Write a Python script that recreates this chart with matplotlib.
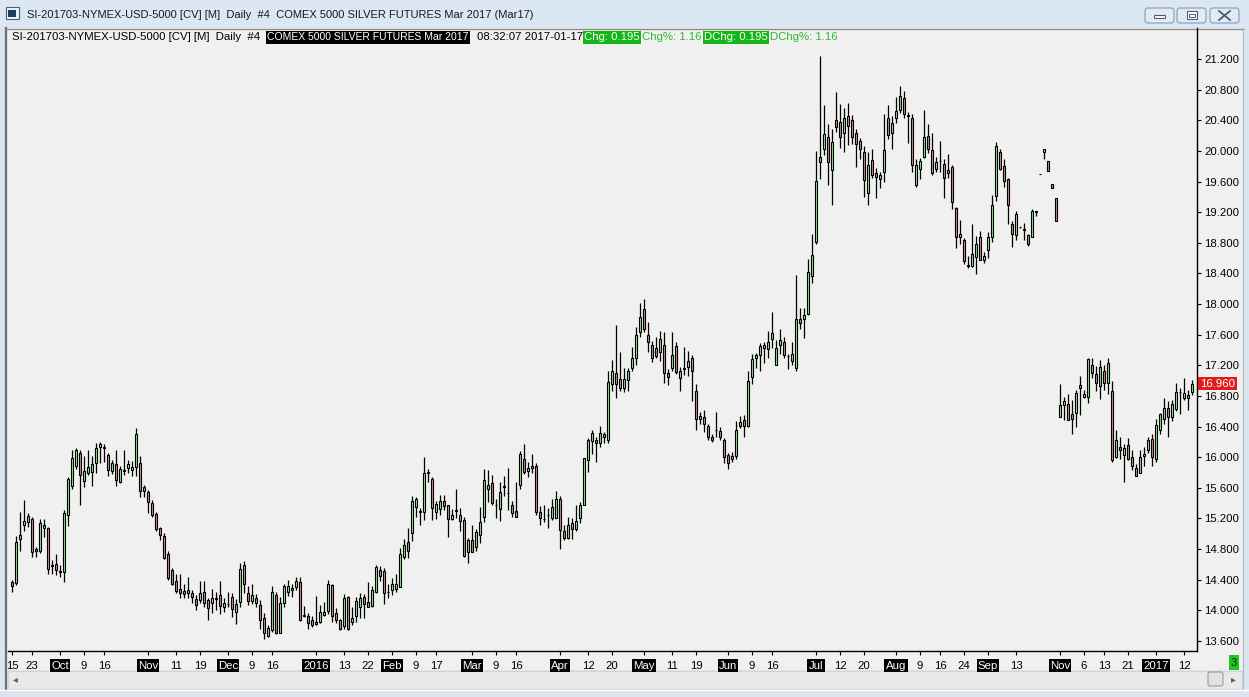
import numpy as np
import matplotlib
matplotlib.use("Agg")
import matplotlib.pyplot as plt
from matplotlib.patches import Rectangle, FancyBboxPatch
import matplotlib.transforms as mtrans

plt.rcParams['font.family'] = ['Liberation Sans', 'DejaVu Sans']

# ---------------- data ----------------
opens = [14.37,14.36,14.93,15.12,15.16,15.19,14.77,14.77,15.07,15.08,
14.59,14.61,14.51,14.50,15.25,15.62,15.89,16.06,15.69,15.80,
15.81,15.92,16.13,16.13,16.03,15.82,15.91,15.68,15.83,15.86,
15.83,15.87,15.93,15.61,15.54,15.40,15.26,15.08,14.97,14.74,
14.53,14.38,14.28,14.25,14.22,14.23,14.15,14.14,14.24,14.14,
14.09,14.16,14.20,14.04,14.08,14.17,13.98,14.11,14.59,14.22,
14.12,14.16,14.07,13.90,13.66,13.74,14.20,13.71,14.10,14.24,
14.26,14.30,14.37,13.93,13.93,13.87,13.82,13.85,13.94,13.99,
14.33,13.96,13.87,13.79,14.18,13.85,13.92,14.04,14.17,14.11,
14.06,14.24,14.53,14.51,14.24,14.26,14.28,14.31,14.70,14.89,
15.01,15.35,15.29,15.29,15.80,15.71,15.28,15.32,15.43,15.37,
15.19,15.30,15.24,15.18,14.76,14.92,14.83,14.98,15.22,15.58,
15.66,15.37,15.32,15.61,15.53,15.37,15.30,15.64,15.97,15.82,
15.86,15.89,15.28,15.19,15.24,15.21,15.21,15.45,15.04,14.94,
15.14,15.06,15.21,15.38,15.96,16.21,16.23,16.19,16.30,16.22,
16.96,17.10,17.02,16.90,17.01,17.16,17.29,17.63,17.93,17.60,
17.46,17.42,17.37,17.46,17.10,17.16,17.45,17.03,17.16,17.18,
17.29,16.86,16.50,16.52,16.41,16.26,16.35,16.34,16.22,16.03,
15.98,16.02,16.41,16.49,16.41,17.05,17.29,17.33,17.43,17.41,
17.55,17.21,17.46,17.50,17.32,17.26,17.16,17.80,17.80,17.87,
18.36,18.81,19.85,20.02,20.18,19.75,20.41,20.38,20.23,20.46,
20.40,20.24,20.13,19.98,19.45,19.88,19.71,19.63,19.72,20.43,
20.23,20.43,20.54,20.69,20.46,20.43,19.56,19.76,19.92,20.20,
20.01,19.76,19.87,19.83,19.71,19.79,19.26,18.87,18.83,18.50,
18.50,18.62,18.87,18.58,18.71,18.87,19.41,19.98,19.80,19.63,
19.05,18.90,19.00,18.97,18.90,18.88,19.20,19.70,19.99,19.87,
19.57,19.39,16.53,16.68,16.69,16.56,16.58,16.94,16.79,16.78,
17.20,17.08,16.93,17.13,16.97,16.86,16.00,16.13,16.03,16.16,
16.00,15.86,15.80,16.01,16.09,16.24,15.97,16.35,16.50,16.64,
16.52,16.63,16.85,16.77,16.81,16.85]

highs = [14.40,14.97,15.28,15.44,15.27,15.22,14.83,15.19,15.19,15.09,
14.66,14.74,14.59,15.31,15.74,16.09,16.12,16.09,16.01,16.09,
16.02,16.19,16.20,16.17,16.05,15.96,16.10,15.89,16.10,15.96,
15.95,16.38,16.02,15.64,15.57,15.44,15.29,15.09,15.01,14.77,
14.55,14.48,14.48,14.35,14.43,14.27,14.20,14.38,14.38,14.16,
14.28,14.24,14.38,14.16,14.24,14.22,14.15,14.62,14.65,14.32,
14.34,14.21,14.14,13.97,13.81,14.32,14.24,14.17,14.35,14.40,
14.34,14.43,14.44,14.06,13.97,13.92,14.19,14.07,14.11,14.40,
14.35,14.03,13.89,14.21,14.19,14.05,14.18,14.22,14.21,14.37,
14.32,14.59,14.58,14.55,14.35,14.42,14.48,14.82,14.93,15.07,
15.49,15.48,15.33,16.00,15.85,15.74,15.43,15.51,15.51,15.38,
15.32,15.59,15.33,15.22,14.95,15.11,15.06,15.35,15.85,15.83,
15.77,15.46,15.68,15.75,15.86,15.43,15.68,16.08,16.17,15.94,
16.04,15.93,15.36,15.38,15.33,15.45,15.56,15.49,15.11,15.22,
15.20,15.38,15.41,15.99,16.25,16.36,16.27,16.41,16.33,17.12,
17.27,17.73,17.37,17.16,17.17,17.44,17.70,18.02,18.06,17.76,
17.52,17.57,17.65,17.63,17.15,17.63,17.50,17.18,17.44,17.39,
17.34,16.96,16.59,16.61,16.43,16.30,16.59,16.40,16.25,16.06,
16.07,16.47,16.54,16.55,17.12,17.35,17.36,17.49,17.50,17.65,
17.89,17.53,17.67,17.57,17.35,17.51,18.38,17.95,17.95,18.59,
18.91,20.00,21.24,20.60,20.35,20.28,20.77,20.61,20.56,20.63,
20.47,20.29,20.17,20.06,19.99,20.03,19.78,19.73,20.48,20.60,
20.45,20.70,20.85,20.78,20.51,20.48,19.90,19.91,20.53,20.35,
20.24,19.92,20.13,19.90,19.96,19.82,19.27,19.10,18.86,18.63,
19.05,18.89,18.95,18.68,18.94,19.42,20.12,20.03,19.89,19.64,
19.08,19.21,19.01,19.06,18.91,19.24,19.21,19.70,20.03,19.87,
19.57,19.39,16.96,16.78,16.83,16.75,16.88,17.06,16.88,17.30,
17.29,17.19,17.27,17.20,17.29,17.00,16.35,16.27,16.17,16.25,
16.09,15.91,16.10,16.13,16.27,16.30,16.50,16.58,16.77,16.73,
16.75,16.97,16.91,17.03,16.88,17.01]

lows = [14.24,14.33,14.78,15.03,15.09,14.70,14.70,14.75,14.96,14.48,
14.47,14.46,14.43,14.37,15.10,15.58,15.84,15.38,15.61,15.77,
15.62,15.80,15.92,15.94,15.75,15.78,15.62,15.66,15.77,15.79,
15.75,15.75,15.48,15.48,15.27,15.22,15.04,14.92,14.67,14.40,
14.33,14.22,14.16,14.16,14.16,14.09,14.00,14.09,14.05,13.87,
13.96,14.00,13.95,13.98,14.05,13.91,13.82,14.04,14.22,14.07,
14.08,14.05,13.76,13.63,13.65,13.72,13.69,13.70,14.05,14.19,
14.18,14.26,13.86,13.91,13.76,13.78,13.81,13.84,13.92,13.95,
13.85,13.84,13.74,13.76,13.74,13.81,13.85,13.90,13.90,14.04,
14.05,14.23,14.38,14.08,14.16,14.20,14.24,14.30,14.67,14.68,
14.91,15.22,15.12,15.18,15.67,15.18,15.19,15.25,15.31,14.96,
15.18,15.20,15.04,14.70,14.62,14.76,14.78,14.88,15.16,15.42,
15.37,15.21,15.17,15.49,15.31,15.22,15.22,15.58,15.78,15.74,
15.80,15.25,15.12,15.15,15.07,15.18,15.20,14.80,14.92,14.93,
14.93,15.04,15.14,15.38,15.81,16.04,15.94,16.13,16.18,16.19,
16.87,16.77,16.86,16.85,16.86,17.12,17.20,17.57,17.63,17.38,
17.24,17.30,17.25,16.97,16.94,17.13,17.09,16.87,17.07,17.06,
16.73,16.36,16.44,16.33,16.23,16.20,16.27,16.23,15.93,15.84,
15.94,15.98,16.38,16.26,16.39,16.96,17.17,17.12,17.23,17.30,
17.42,17.20,17.35,17.30,17.15,17.20,17.12,17.68,17.56,17.86,
18.28,18.79,19.63,19.95,19.55,19.30,20.25,20.04,19.98,20.08,
20.09,19.79,19.89,19.40,19.29,19.64,19.38,19.51,19.60,20.15,
20.03,20.36,20.49,20.43,20.10,19.73,19.53,19.63,19.91,19.97,
19.69,19.72,19.73,19.39,19.64,19.24,18.73,18.79,18.52,18.47,
18.49,18.39,18.57,18.54,18.60,18.81,19.34,19.75,19.53,19.05,
18.74,18.83,18.99,18.83,18.76,18.87,19.15,19.70,19.89,19.74,
19.52,19.09,16.53,16.48,16.48,16.30,16.39,16.55,16.77,16.71,
17.04,16.87,16.76,16.88,16.83,15.94,15.99,15.97,15.68,15.96,
15.83,15.75,15.79,15.88,16.05,15.89,15.94,16.30,16.44,16.27,
16.47,16.60,16.57,16.75,16.62,16.81]

closes = [14.32,14.89,14.99,15.17,15.23,14.76,14.80,15.14,15.12,14.54,
14.58,14.53,14.50,15.27,15.72,15.99,16.10,15.77,15.82,15.87,
15.91,16.12,16.17,16.12,15.83,15.93,15.70,15.85,15.82,15.91,
15.87,16.30,15.56,15.56,15.41,15.25,15.06,14.98,14.69,14.42,
14.35,14.25,14.22,14.21,14.26,14.17,14.07,14.22,14.09,14.03,
14.16,14.15,14.06,14.09,14.08,14.02,14.08,14.54,14.34,14.12,
14.20,14.10,13.88,13.70,13.77,14.24,13.70,14.09,14.32,14.32,
14.29,14.38,13.87,13.93,13.84,13.81,13.85,13.98,13.98,14.34,
13.92,13.87,13.75,14.16,13.75,13.90,14.12,14.16,14.08,14.05,
14.26,14.57,14.45,14.23,14.24,14.34,14.34,14.74,14.85,14.78,
15.43,15.45,15.29,15.80,15.80,15.33,15.39,15.43,15.36,15.19,
15.24,15.30,15.17,14.71,14.92,14.76,15.02,15.15,15.70,15.64,
15.40,15.37,15.55,15.62,15.53,15.27,15.22,16.04,15.81,15.86,
15.89,15.28,15.20,15.19,15.24,15.35,15.46,15.05,14.94,15.12,
15.06,15.17,15.38,15.99,16.22,16.32,16.18,16.31,16.26,16.98,
17.13,16.96,16.90,17.02,17.13,17.29,17.59,17.83,17.68,17.50,
17.30,17.32,17.54,17.10,17.05,17.33,17.11,17.13,17.15,17.26,
17.13,16.50,16.54,16.43,16.26,16.22,16.35,16.27,16.00,15.93,
16.02,16.36,16.46,16.41,16.99,17.28,17.33,17.45,17.47,17.51,
17.62,17.42,17.53,17.33,17.32,17.35,17.80,17.75,17.86,18.42,
18.64,19.61,19.92,20.22,19.85,20.12,20.31,20.18,20.43,20.33,
20.18,20.09,20.02,19.62,19.82,19.69,19.66,19.69,20.01,20.21,
20.36,20.52,20.72,20.48,20.46,19.82,19.81,19.87,20.18,20.03,
19.71,19.85,19.87,19.65,19.75,19.33,18.87,18.92,18.56,18.50,
18.66,18.78,18.58,18.63,18.87,19.29,20.06,19.77,19.61,19.29,
18.92,19.18,19.00,18.97,18.79,19.22,19.21,19.70,20.03,19.74,
19.52,19.09,16.68,16.74,16.48,16.50,16.84,16.90,16.82,17.28,
17.10,16.97,17.18,16.97,17.23,15.96,16.23,16.09,16.12,15.98,
15.88,15.76,16.00,16.04,16.23,16.00,16.42,16.57,16.64,16.52,
16.69,16.85,16.85,16.84,16.77,16.96]

# x-axis tick labels (bar index, text)
xtick_pos = [0, 5, 12, 18, 23, 34, 41, 47, 54, 60, 65, 76, 83, 89, 95, 101, 106,
             115, 121, 126, 137, 144, 150, 158, 165, 171, 179, 185, 190, 201, 207,
             213, 221, 227, 232, 238, 244, 251, 262, 268, 273, 279, 286, 293]
xtick_lbl = ['15', '23', 'Oct', '9', '16', 'Nov', '11', '19', 'Dec', '9', '16', '2016',
             '13', '22', 'Feb', '9', '17', 'Mar', '9', '16', 'Apr', '12', '20', 'May',
             '11', '19', 'Jun', '9', '16', 'Jul', '12', '20', 'Aug', '9', '16', '24',
             'Sep', '13', 'Nov', '6', '13', '21', '2017', '12']
ytick_vals = [13.6, 14.0, 14.4, 14.8, 15.2, 15.6, 16.0, 16.4, 16.8, 17.2, 17.6,
              18.0, 18.4, 18.8, 19.2, 19.6, 20.0, 20.4, 20.8, 21.2]
last_price = 16.96

title_txt = "SI-201703-NYMEX-USD-5000 [CV] [M]  Daily  #4  COMEX 5000 SILVER FUTURES Mar 2017 (Mar17)"
hdr_sym = "SI-201703-NYMEX-USD-5000 [CV] [M]  Daily  #4"
hdr_name = "COMEX 5000 SILVER FUTURES Mar 2017"
hdr_time = "08:32:07 2017-01-17"
hdr_chg = "Chg: 0.195"
hdr_chgp = "Chg%: 1.16"
hdr_dchg = "DChg: 0.195"
hdr_dchgp = "DChg%: 1.16"

# ---------------- figure / window frame ----------------
W, H = 1249, 697
fig = plt.figure(figsize=(W / 100, H / 100), dpi=100)
fig.patch.set_facecolor('#dae5f2')

bg = fig.add_axes([0, 0, 1, 1])
bg.set_xlim(0, W)
bg.set_ylim(H, 0)
bg.axis('off')
bg.set_zorder(0)

# title bar
bg.add_patch(Rectangle((0, 0), W, 27, fc='#dce7f4', ec='none'))
bg.add_patch(Rectangle((6, 7), 13, 12, fc='#eef3f9', ec='#4a5d78', lw=0.8))
bg.add_patch(Rectangle((8, 10), 8, 7, fc='#1d3b5b', ec='none'))
bg.text(27, 14.5, title_txt, va='center', ha='left', fontsize=8.0, color='#1a1a1a')
for x0 in (1145, 1177, 1210):
    bg.add_patch(FancyBboxPatch((x0, 8), 29, 15, boxstyle='round,pad=0,rounding_size=3',
                                fc='#e3eaf4', ec='#8ea2bd', lw=0.9))
bg.add_patch(Rectangle((1154, 15), 11, 3, fc='white', ec='#4b5c76', lw=0.8))
bg.add_patch(Rectangle((1187, 11), 10, 8, fc='white', ec='#4b5c76', lw=0.8))
bg.add_patch(Rectangle((1189, 13.5), 6, 3, fc='none', ec='#4b5c76', lw=0.7))
bg.plot([1219, 1230], [11, 20], color='#4b5c76', lw=1.3)
bg.plot([1219, 1230], [20, 11], color='#4b5c76', lw=1.3)

# chart panel
bg.add_patch(Rectangle((7, 28), 1236, 642, fc='#f0f0f0', ec='none'))
bg.plot([6, 6], [28, 690], color='#6f6f6f', lw=1.6)
bg.plot([6, 1243], [28.5, 28.5], color='#8c8c8c', lw=1.0)
bg.plot([1243, 1243], [28, 690], color='#b8b8b8', lw=0.8)

# scrollbar
bg.add_patch(Rectangle((8, 671), 1234, 18, fc='#e9e9e9', ec='#d4d4d4', lw=0.8))
bg.text(15, 679.5, '\u25c2', ha='center', va='center', fontsize=7, color='#606060',
        family='DejaVu Sans')
bg.add_patch(FancyBboxPatch((1208, 672), 15, 14, boxstyle='round,pad=0,rounding_size=2',
                            fc='#e2e2e2', ec='#9a9a9a', lw=0.8))
bg.text(1233, 679.5, '\u25b8', ha='center', va='center', fontsize=7, color='#606060',
        family='DejaVu Sans')
bg.plot([0, W], [689.5, 689.5], color='white', lw=1)

# header row
fs_hdr = 8.2
yh = 37.5
bg.text(12, yh, hdr_sym, va='center', ha='left', fontsize=fs_hdr, color='black')
bg.text(267, yh, hdr_name, va='center', ha='left', fontsize=7.5, color='white',
        bbox=dict(boxstyle='square,pad=0.12', fc='black', ec='none'))
bg.text(477, yh, hdr_time, va='center', ha='left', fontsize=fs_hdr, color='black')
bg.text(584, yh, hdr_chg, va='center', ha='left', fontsize=fs_hdr, color='white',
        bbox=dict(boxstyle='square,pad=0.12', fc='#14b814', ec='none'))
bg.text(642, yh, hdr_chgp, va='center', ha='left', fontsize=fs_hdr, color='#2fb82f')
bg.text(704, yh, hdr_dchg, va='center', ha='left', fontsize=fs_hdr, color='white',
        bbox=dict(boxstyle='square,pad=0.12', fc='#14b814', ec='none'))
bg.text(770, yh, hdr_dchgp, va='center', ha='left', fontsize=fs_hdr, color='#2fb82f')

# bars indicator
bg.text(1234, 662.5, '3', ha='center', va='center', fontsize=8, color='#0b300b',
        bbox=dict(boxstyle='square,pad=0.2', fc='#22c422', ec='none'))

# ---------------- price axes ----------------
ax = fig.add_axes([8 / W, 1 - 651 / H, (1197 - 8) / W, (651 - 28) / H])
ax.set_zorder(1)
ax.patch.set_alpha(0)
n = len(closes)
idx = np.arange(n)
ax.set_xlim(-1, 296.25)
ax.set_ylim(13.469, 21.605)

o = np.array(opens); c = np.array(closes); hi = np.array(highs); lo = np.array(lows)
up = c >= o
colors = np.where(up, '#92ea92', '#cd8e8e')
ax.vlines(idx, lo, hi, color='black', lw=0.9, zorder=2)
bottoms = np.minimum(o, c)
heights = np.maximum(np.abs(c - o), 0.004)
ax.bar(idx, heights, bottom=bottoms, width=0.74, color=colors, edgecolor='black',
       linewidth=0.8, zorder=3)

for side in ('left', 'top'):
    ax.spines[side].set_visible(False)
for side in ('right', 'bottom'):
    ax.spines[side].set_color('black')
    ax.spines[side].set_linewidth(1.0)

ax.yaxis.tick_right()
ax.set_yticks(ytick_vals)
ax.set_yticklabels(['%.3f' % v for v in ytick_vals])
ax.tick_params(axis='y', direction='out', length=3, width=0.8, pad=2, labelsize=8.2,
               colors='black')

ax.set_xticks(xtick_pos)
ax.set_xticklabels(xtick_lbl)
ax.tick_params(axis='x', direction='out', length=3, width=0.8, pad=4, labelsize=8.2)
for lab in ax.get_xticklabels():
    t = lab.get_text()
    if not (t.isdigit() and len(t) <= 2):
        lab.set_color('white')
        lab.set_bbox(dict(boxstyle='square,pad=0.12', fc='black', ec='none'))

trans = mtrans.blended_transform_factory(ax.transAxes, ax.transData)
ax.text(1.0025, last_price, '%.3f' % last_price, transform=trans, va='center', ha='left',
        fontsize=8.2, color='white', clip_on=False, zorder=5,
        bbox=dict(boxstyle='square,pad=0.15', fc='#e21b1b', ec='none'))

fig.savefig('out.png', dpi=100, facecolor=fig.get_facecolor())
